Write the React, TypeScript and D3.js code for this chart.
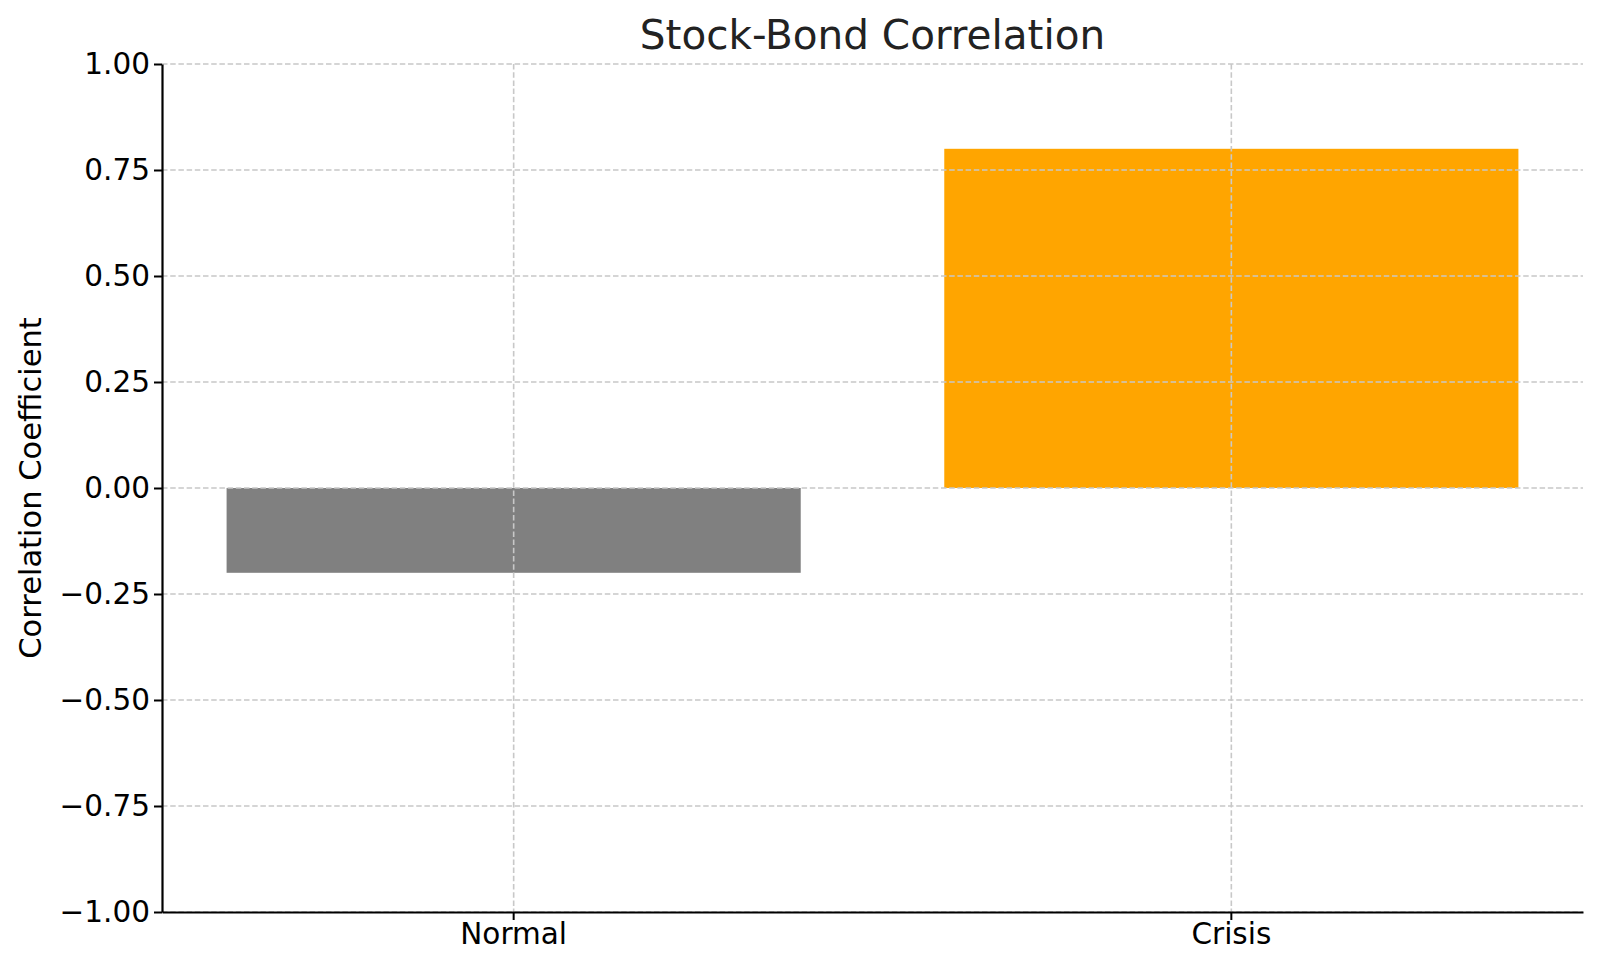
import { useEffect, useRef } from 'react';
import * as d3 from 'd3';

const categories = ['Normal', 'Crisis'];
const correlations = [-0.2, 0.8];
const barColors = ['#808080', '#ffa500'];
const yTicks = [-1, -0.75, -0.5, -0.25, 0, 0.25, 0.5, 0.75, 1];

const WIDTH = 1600;
const HEIGHT = 969;
const FONT = '"DejaVu Sans", sans-serif';

export default function App() {
  const svgRef = useRef<SVGSVGElement>(null);

  useEffect(() => {
    if (!svgRef.current) return;
    const svg = d3.select(svgRef.current);
    svg.selectAll('*').remove();

    const margin = { top: 64, right: 17, bottom: 57, left: 162 };
    const width = WIDTH - margin.left - margin.right;
    const chartHeight = HEIGHT - margin.top - margin.bottom;

    const g = svg.append('g').attr('transform', `translate(${margin.left},${margin.top})`);

    // Scales
    const x = d3
      .scaleBand<string>()
      .domain(categories)
      .range([0, width])
      .paddingInner(0.2)
      .paddingOuter(0.09);

    const y = d3.scaleLinear().domain([-1, 1]).range([chartHeight, 0]);

    const data = categories.map((c, i) => ({ name: c, value: correlations[i], color: barColors[i] }));

    // Bars
    g.selectAll('.bar')
      .data(data)
      .enter()
      .append('rect')
      .attr('class', 'bar')
      .attr('x', (d) => x(d.name) || 0)
      .attr('y', (d) => y(Math.max(0, d.value)))
      .attr('width', x.bandwidth())
      .attr('height', (d) => Math.abs(y(d.value) - y(0)))
      .attr('fill', (d) => d.color);

    // Grid lines (drawn above bars)
    g.append('g')
      .selectAll('line')
      .data(yTicks)
      .enter()
      .append('line')
      .attr('x1', 0)
      .attr('x2', width)
      .attr('y1', (d) => y(d))
      .attr('y2', (d) => y(d))
      .attr('stroke', '#c8c8c8')
      .attr('stroke-width', 1.6)
      .attr('stroke-dasharray', '5.5,2.7');

    g.append('g')
      .selectAll('line')
      .data(categories)
      .enter()
      .append('line')
      .attr('x1', (d) => (x(d) || 0) + x.bandwidth() / 2)
      .attr('x2', (d) => (x(d) || 0) + x.bandwidth() / 2)
      .attr('y1', 0)
      .attr('y2', chartHeight)
      .attr('stroke', '#c8c8c8')
      .attr('stroke-width', 1.6)
      .attr('stroke-dasharray', '5.5,2.7');

    // Y axis
    const yAxis = g
      .append('g')
      .call(
        d3
          .axisLeft(y)
          .tickValues(yTicks)
          .tickSize(8)
          .tickSizeOuter(0)
          .tickPadding(4)
          .tickFormat(d3.format('.2f'))
      );
    yAxis.selectAll('text').attr('fill', '#000').attr('font-size', '29.5px').attr('font-family', FONT);

    // X axis
    const xAxis = g
      .append('g')
      .attr('transform', `translate(0,${chartHeight})`)
      .call(d3.axisBottom(x).tickSize(8).tickSizeOuter(0).tickPadding(3));
    xAxis.selectAll('text').attr('fill', '#000').attr('font-size', '29.5px').attr('font-family', FONT);

    g.selectAll('.domain').attr('stroke', '#000').attr('stroke-width', 2.2);
    g.selectAll('.tick line').attr('stroke', '#000').attr('stroke-width', 2);

    // Title
    svg
      .append('text')
      .attr('x', margin.left + width / 2)
      .attr('y', 49)
      .attr('text-anchor', 'middle')
      .attr('font-family', FONT)
      .attr('font-size', '40.5px')
      .attr('fill', '#222')
      .text('Stock-Bond Correlation');

    // Y label
    svg
      .append('text')
      .attr('transform', `translate(41,${margin.top + chartHeight / 2}) rotate(-90)`)
      .attr('text-anchor', 'middle')
      .attr('font-family', FONT)
      .attr('font-size', '30.5px')
      .attr('fill', '#000')
      .text('Correlation Coefficient');
  }, []);

  return (
    <svg
      ref={svgRef}
      width={WIDTH}
      height={HEIGHT}
      style={{ position: 'absolute', left: 0, top: 0, background: '#fff' }}
    />
  );
}
